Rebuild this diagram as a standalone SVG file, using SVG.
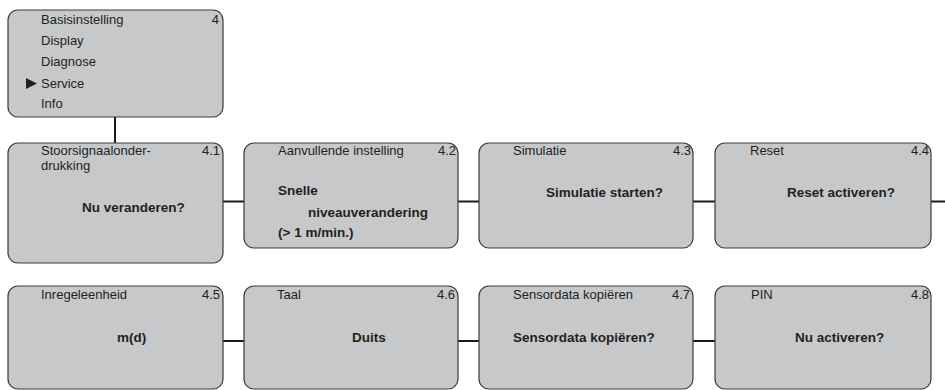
<svg xmlns="http://www.w3.org/2000/svg" width="945" height="390" viewBox="0 0 945 390">
<style>
.box{fill:#c7c8ca;stroke:#3a3a3a;stroke-width:1.2}
.t{font-family:"Liberation Sans",Arial,sans-serif;font-size:13px;fill:#231f20}
.n{font-family:"Liberation Sans",Arial,sans-serif;font-size:13px;fill:#231f20;text-anchor:end}
.b{font-family:"Liberation Sans",Arial,sans-serif;font-size:13.5px;font-weight:bold;fill:#231f20}
.c{stroke:#1a1a1a;stroke-width:2;fill:none}
</style>
<rect width="945" height="390" fill="#ffffff"/>
<g id="connectors">
<line class="c" x1="115" y1="117" x2="115" y2="143"/>
<line class="c" x1="223" y1="201.5" x2="244" y2="201.5"/>
<line class="c" x1="458" y1="201.5" x2="479" y2="201.5"/>
<line class="c" x1="693" y1="201.5" x2="715" y2="201.5"/>
<line class="c" x1="931" y1="201.5" x2="945" y2="201.5"/>
<line class="c" x1="223" y1="341" x2="244" y2="341"/>
<line class="c" x1="458" y1="341" x2="479" y2="341"/>
<line class="c" x1="693" y1="341" x2="715" y2="341"/>
</g>
<g id="menu">
<rect class="box" x="8" y="10" width="215" height="107" rx="10"/>
<text class="t" x="41" y="24">Basisinstelling</text>
<text class="n" x="219" y="24">4</text>
<text class="t" x="41" y="45">Display</text>
<text class="t" x="41" y="66">Diagnose</text>
<polygon points="26,78 37,83.5 26,89" fill="#231f20"/>
<text class="t" x="41" y="88">Service</text>
<text class="t" x="41" y="108">Info</text>
</g>
<g id="n41">
<rect class="box" x="8" y="143" width="215" height="120" rx="10"/>
<text class="t" x="41" y="155">Stoorsignaalonder-</text>
<text class="t" x="41" y="170">drukking</text>
<text class="n" x="220" y="155">4.1</text>
<text class="b" x="82" y="212">Nu veranderen?</text>
</g>
<g id="n42">
<rect class="box" x="244" y="143" width="214" height="105" rx="10"/>
<text class="t" x="278" y="155">Aanvullende instelling</text>
<text class="n" x="456" y="155">4.2</text>
<text class="b" x="278" y="195">Snelle</text>
<text class="b" x="308" y="217">niveauverandering</text>
<text class="b" x="278" y="237">(&gt; 1 m/min.)</text>
</g>
<g id="n43">
<rect class="box" x="479" y="143" width="214" height="105" rx="10"/>
<text class="t" x="513" y="155">Simulatie</text>
<text class="n" x="691" y="155">4.3</text>
<text class="b" x="546" y="197">Simulatie starten?</text>
</g>
<g id="n44">
<rect class="box" x="715" y="143" width="216" height="105" rx="10"/>
<text class="t" x="750" y="155">Reset</text>
<text class="n" x="929" y="155">4.4</text>
<text class="b" x="787" y="197">Reset activeren?</text>
</g>
<g id="n45">
<rect class="box" x="8" y="286" width="215" height="103" rx="10"/>
<text class="t" x="41" y="299">Inregeleenheid</text>
<text class="n" x="220" y="299">4.5</text>
<text class="b" x="117" y="342">m(d)</text>
</g>
<g id="n46">
<rect class="box" x="244" y="286" width="214" height="103" rx="10"/>
<text class="t" x="277" y="299">Taal</text>
<text class="n" x="455" y="299">4.6</text>
<text class="b" x="352" y="342">Duits</text>
</g>
<g id="n47">
<rect class="box" x="479" y="286" width="214" height="103" rx="10"/>
<text class="t" x="513" y="299">Sensordata kopiëren</text>
<text class="n" x="690" y="299">4.7</text>
<text class="b" x="513" y="342">Sensordata kopiëren?</text>
</g>
<g id="n48">
<rect class="box" x="715" y="286" width="216" height="103" rx="10"/>
<text class="t" x="751" y="299">PIN</text>
<text class="n" x="929" y="299">4.8</text>
<text class="b" x="795" y="342">Nu activeren?</text>
</g>
</svg>
